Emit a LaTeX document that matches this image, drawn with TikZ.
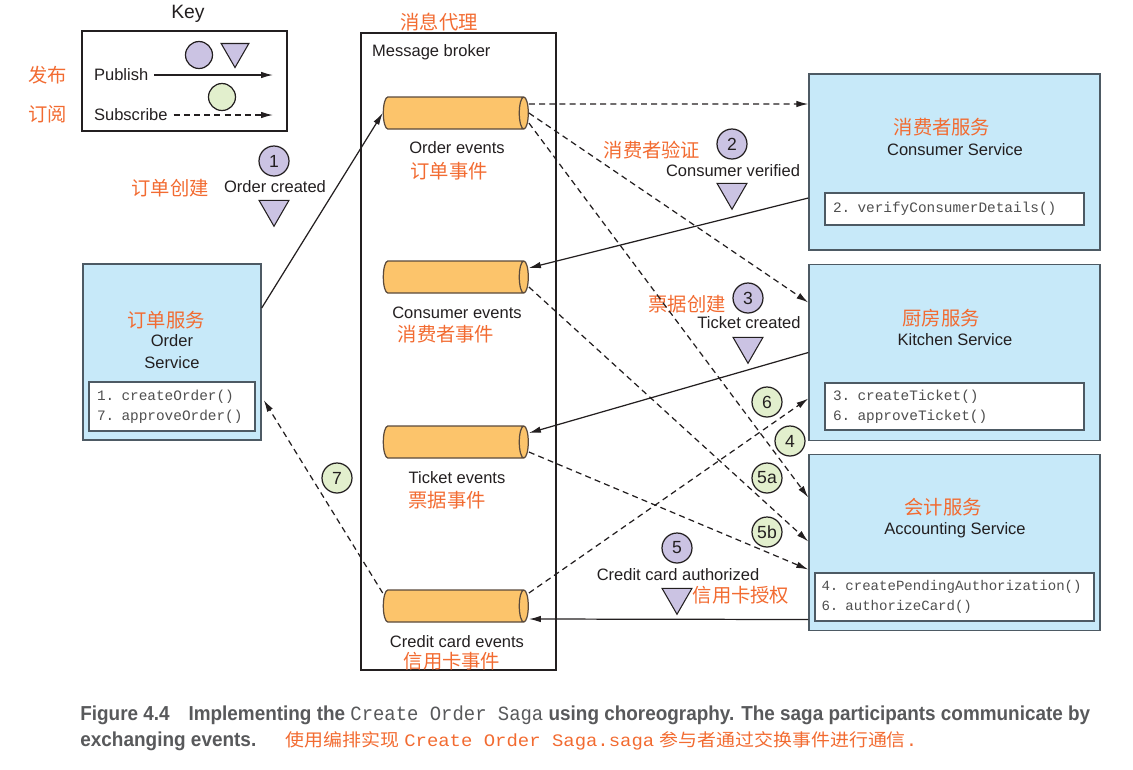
\documentclass[tikz,border=0pt]{standalone}
\usepackage{fontspec}
\setmainfont{Liberation Sans}
\setmonofont{Liberation Mono}
\newfontfamily\cjk{Noto Sans CJK SC}
\usepackage{tikz}
\usetikzlibrary{shapes.geometric,arrows.meta,calc,positioning}

\definecolor{svcblue}{HTML}{C7E9F9}
\definecolor{svcline}{HTML}{4D5A64}
\definecolor{cylfill}{HTML}{FCC46B}
\definecolor{cylline}{HTML}{5A4A3C}
\definecolor{evpurple}{HTML}{CBC3E3}
\definecolor{evgreen}{HTML}{E2EFCD}
\definecolor{zhorange}{HTML}{F26B31}
\definecolor{txt}{HTML}{231F20}
\definecolor{codegray}{HTML}{4F4F4F}
\definecolor{capgray}{HTML}{58595B}

\begin{document}
\begin{tikzpicture}[x=0.02cm,y=0.02cm,
    lbl/.style={font=\fontsize{9.4}{11}\selectfont, text=txt, inner sep=1pt},
    zh/.style={font=\cjk\fontsize{11}{13}\selectfont, text=zhorange, inner sep=1pt},
    svc/.style={draw=svcline, fill=svcblue, line width=0.8pt, minimum width=5.82cm, minimum height=3.52cm},
    mbox/.style={draw=svcline, fill=white, line width=0.7pt, align=left, inner xsep=0.16cm, inner ysep=0pt,
                 font=\ttfamily\fontsize{8.2}{11.3}\selectfont, text=codegray},
    topic/.style={cylinder, draw=cylline, line width=0.7pt, cylinder uses custom fill, cylinder body fill=cylfill,
                  cylinder end fill=cylfill, minimum width=0.64cm, minimum height=2.9cm, shape aspect=0.3,
                  inner xsep=0pt, inner ysep=0.3cm},
    pubev/.style={circle, draw=txt, fill=evpurple, line width=0.7pt, minimum size=0.6cm, inner sep=0,
                  font=\fontsize{10}{12}\selectfont, text=txt},
    subev/.style={pubev, fill=evgreen},
    evmark/.style={regular polygon, regular polygon sides=3, shape border rotate=180, draw=txt, fill=evpurple,
                   line width=0.6pt, minimum size=0.69cm, inner sep=0},
    pubarrow/.style={-{Latex[length=0.24cm,width=0.13cm]}, draw=txt, line width=0.7pt},
    subarrow/.style={pubarrow, dash pattern=on 3.4pt off 2.4pt}]
    \useasboundingbox (0,0) rectangle (1133,-769);

    % key
    \node[font=\fontsize{11}{13}\selectfont, text=txt] (keyt) at (188,-14) {Key};
    \node[draw=txt, line width=0.7pt, minimum width=4.1cm, minimum height=2cm] (key) at (184.5,-81) {};
    \node[pubev, minimum size=0.54cm] (kc1) at (199,-55) {};
    \node[evmark, minimum size=0.64cm] (kt1) at (235,-51.5) {};
    \node[subev, minimum size=0.54cm] (kc2) at (222,-97) {};
    \node[lbl, anchor=west] (pubt) at (92,-75) {Publish};
    \node[lbl, anchor=west] (subt) at (92,-115) {Subscribe};
    \coordinate (pubend) at (273,-75);
    \coordinate (subend) at (273,-115);
    \draw[pubarrow] ($(pubt.east)+(4,0)$) -- (pubend);
    \draw[subarrow] ($(subt.east)+(4,0)$) -- (subend);
    \node[zh] (fabu) at (48,-75) {发布};
    \node[zh] (dingyue) at (48,-114) {订阅};

    % message broker
    \node[zh] (brokerzh) at (439,-22) {消息代理};
    \node[draw=txt, line width=0.7pt, minimum width=3.9cm, minimum height=12.74cm] (broker) at (458.5,-351.5) {};
    \node[lbl, anchor=west] (brokert) at (370,-52) {Message broker};

    \node[topic] (oe) at (451,-113) {};
    \node[lbl] (oet) at (457,-148) {Order events};
    \node[zh] (oez) at (449,-171) {订单事件};
    \node[topic] (ce) at (451,-277) {};
    \node[lbl] (cet) at (457,-313) {Consumer events};
    \node[zh] (cez) at (446,-334) {消费者事件};
    \node[topic] (te) at (451,-442) {};
    \node[lbl] (tet) at (457,-478) {Ticket events};
    \node[zh] (tez) at (447,-500) {票据事件};
    \node[topic] (cce) at (451,-606) {};
    \node[lbl] (ccet) at (457,-642) {Credit card events};
    \node[zh] (ccez) at (452,-661) {信用卡事件};

    % services
    \node[svc, minimum width=3.56cm] (os) at (172,-352) {};
    \node[zh] (osz) at (166,-320) {订单服务};
    \node[lbl, align=center, font=\fontsize{9.4}{12.5}\selectfont] (ost) at (172,-351.5) {Order\\Service};
    \node[mbox, text width=3.0cm, minimum height=0.98cm] (osm) at (172,-406.5) {1. createOrder()\\7. approveOrder()};

    \node[svc] (cs) at (954.5,-162) {};
    \node[zh] (csz) at (942,-127) {消费者服务};
    \node[lbl] (cst) at (955,-150) {Consumer Service};
    \node[mbox, text width=4.86cm, minimum height=0.64cm] (csm) at (954.5,-209) {2. verifyConsumerDetails()};

    \node[svc] (ks) at (954.5,-352.5) {};
    \node[zh] (ksz) at (941,-318) {厨房服务};
    \node[lbl] (kst) at (955,-340) {Kitchen Service};
    \node[mbox, text width=4.86cm, minimum height=0.94cm] (ksm) at (954.5,-406.5) {3. createTicket()\\6. approveTicket()};

    \node[svc] (as) at (954.5,-542.5) {};
    \node[zh] (asz) at (943,-507) {会计服务};
    \node[lbl] (ast) at (955,-530) {Accounting Service};
    \node[mbox, text width=5.32cm, inner xsep=0.13cm, minimum height=0.96cm, font=\ttfamily\fontsize{8}{11.3}\selectfont]
      (asm) at (954.5,-597) {4. createPendingAuthorization()\\6. authorizeCard()};

    % events
    \node[pubev] (e1) at (274,-161) {1};
    \node[lbl] (e1t) at (275,-187) {Order created};
    \node[evmark] (m1) at (274,-209) {};
    \node[zh] (e1z) at (170,-188) {订单创建};
    \node[pubev] (e2) at (732,-144) {2};
    \node[lbl] (e2t) at (733,-171) {Consumer verified};
    \node[evmark] (m2) at (732,-192) {};
    \node[zh] (e2z) at (652,-150) {消费者验证};
    \node[pubev] (e3) at (748,-298) {3};
    \node[lbl] (e3t) at (749,-323) {Ticket created};
    \node[evmark] (m3) at (748,-346) {};
    \node[zh] (e3z) at (687,-304) {票据创建};
    \node[pubev] (e5) at (677,-548) {5};
    \node[lbl] (e5t) at (678,-575) {Credit card authorized};
    \node[evmark] (m5) at (677,-597) {};
    \node[zh] (e5z) at (741,-595) {信用卡授权};
    \node[subev] (s6) at (767,-402) {6};
    \node[subev] (s4) at (790,-441) {4};
    \node[subev] (s5a) at (767,-478) {5a};
    \node[subev] (s5b) at (767,-532) {5b};
    \node[subev] (s7) at (337,-478) {7};

    % publish / subscribe
    \draw[pubarrow] ($(os.east)+(0,44)$) -- (oe.west);
    \draw[subarrow] ($(oe.east)+(0,9)$) -- ($(cs.west)+(0,58)$);
    \draw[subarrow] (oe.east) -- ($(ks.west)+(0,50)$);
    \draw[subarrow] ($(oe.east)+(0,-10)$) -- ($(as.west)+(0,45)$);
    \draw[pubarrow] ($(cs.west)+(0,-36)$) -- ($(ce.east)+(0,9)$);
    \draw[subarrow] ($(ce.east)+(0,-10)$) -- ($(as.west)+(0,1)$);
    \draw[pubarrow] (ks.west) -- ($(te.east)+(0,9)$);
    \draw[subarrow] ($(te.east)+(0,-10)$) -- ($(as.west)+(0,-27)$);
    \draw[subarrow] ($(cce.east)+(0,13)$) -- ($(ks.west)+(0,-46)$);
    \draw[pubarrow] ($(as.west)+(0,-77)$) -- ($(cce.east)+(0,-13)$);
    \draw[subarrow] ($(cce.west)+(0,13)$) -- ($(os.east)+(2,-48)$);

    % caption
    \node[anchor=west, text=capgray, inner sep=0] (cap1) at (80,-715)
      {\resizebox{20.2cm}{\height}{\fontsize{11.5}{13}\selectfont\bfseries Figure 4.4\quad Implementing the {\mdseries\ttfamily Create Order Saga} using choreography. The saga participants communicate by}};
    \node[anchor=west, text=capgray, inner sep=0] (cap2) at (80,-741)
      {\resizebox{3.52cm}{\height}{\fontsize{11.5}{13}\selectfont\bfseries exchanging events.}};
    \node[anchor=west, text=zhorange, inner sep=0] (cap3) at (285,-741)
      {\resizebox{12.64cm}{\height}{\fontsize{10}{12}\selectfont{\cjk 使用编排实现} {\ttfamily Create Order Saga.saga} {\cjk 参与者通过交换事件进行通信}{\ttfamily .}}};
\end{tikzpicture}
\end{document}
